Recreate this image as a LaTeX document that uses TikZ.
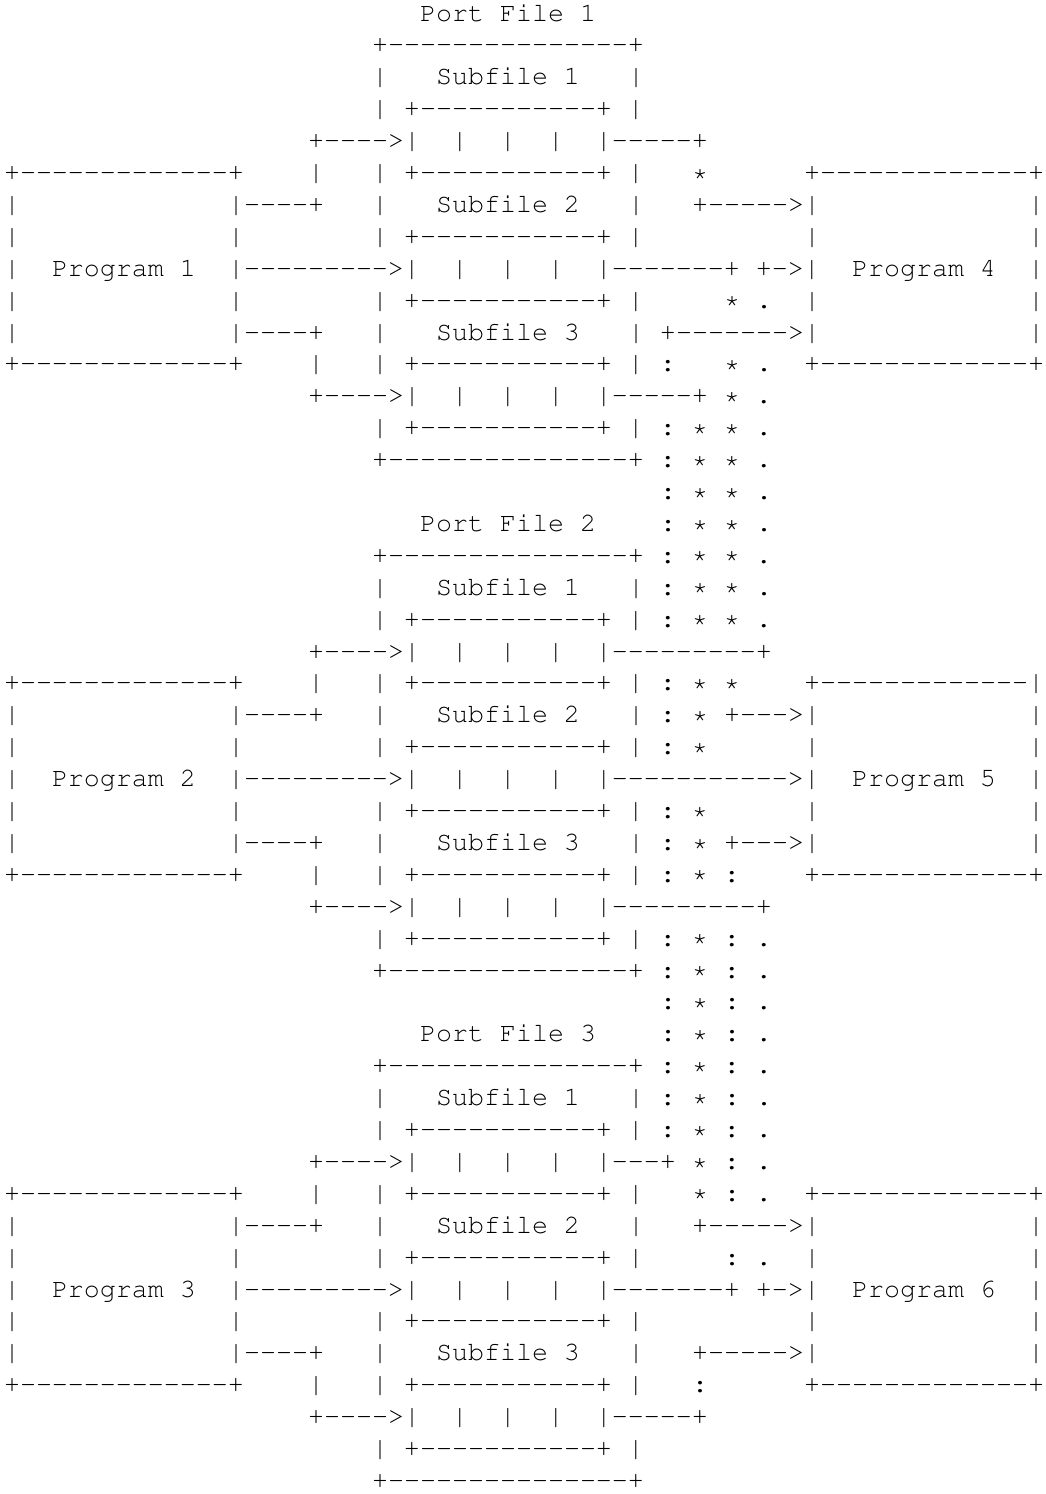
\documentclass[tikz,border=0pt]{standalone}
\usepackage[T1,TU]{fontenc}
\ExplSyntaxOn
% a run of n hyphens, kept apart so that no dash ligature forms
\cs_new:Npn \dashrun #1 { \prg_replicate:nn {#1} { - \kern 0pt } }
\ExplSyntaxOff
\tikzset{
  txt/.style={anchor=base west, inner sep=0pt, outer sep=0pt,
    font=\fontencoding{T1}\fontfamily{pcr}\fontsize{13.333pt}{16pt}\selectfont\frenchspacing}
}
% one run of characters on the 65 x 47 character grid: row, column, text
\newcommand\seg[3]{\node[txt] (r#1c#2) at ({4+16*#2},{21+31.9*#1}) {#3};}
\begin{document}
\begin{tikzpicture}[x=0.5pt,y=-0.5pt]
\fill[white] (0,0) rectangle (1045,1494);
\useasboundingbox (0,0) rectangle (1045,1494);
% ---------------- Port File 1 ----------------
\seg{0}{26}{Port File 1}
\seg{1}{23}{+\dashrun{15}+}
\seg{2}{23}{|} \seg{2}{27}{Subfile 1} \seg{2}{39}{|}
\seg{3}{23}{| +\dashrun{11}+ |}
\seg{4}{19}{+\dashrun{4}>|~~|~~|~~|~~|\dashrun{5}+}
\seg{5}{0}{+\dashrun{13}+} \seg{5}{19}{|} \seg{5}{23}{| +\dashrun{11}+ |} \seg{5}{43}{*} \seg{5}{50}{+\dashrun{13}+}
\seg{6}{0}{|} \seg{6}{14}{|\dashrun{4}+} \seg{6}{23}{|} \seg{6}{27}{Subfile 2} \seg{6}{39}{|} \seg{6}{43}{+\dashrun{5}>|} \seg{6}{64}{|}
\seg{7}{0}{|} \seg{7}{14}{|} \seg{7}{23}{| +\dashrun{11}+ |} \seg{7}{50}{|} \seg{7}{64}{|}
\seg{8}{0}{|} \seg{8}{3}{Program 1} \seg{8}{14}{|\dashrun{9}>|~~|~~|~~|~~|\dashrun{7}+ +\dashrun{1}>|} \seg{8}{53}{Program 4} \seg{8}{64}{|}
\seg{9}{0}{|} \seg{9}{14}{|} \seg{9}{23}{| +\dashrun{11}+ |} \seg{9}{45}{* .} \seg{9}{50}{|} \seg{9}{64}{|}
\seg{10}{0}{|} \seg{10}{14}{|\dashrun{4}+} \seg{10}{23}{|} \seg{10}{27}{Subfile 3} \seg{10}{39}{| +\dashrun{7}>|} \seg{10}{64}{|}
\seg{11}{0}{+\dashrun{13}+} \seg{11}{19}{|} \seg{11}{23}{| +\dashrun{11}+ | :} \seg{11}{45}{* .} \seg{11}{50}{+\dashrun{13}+}
\seg{12}{19}{+\dashrun{4}>|~~|~~|~~|~~|\dashrun{5}+ * .}
\seg{13}{23}{| +\dashrun{11}+ | : * * .}
\seg{14}{23}{+\dashrun{15}+ : * * .}
\seg{15}{41}{: * * .}
% ---------------- Port File 2 ----------------
\seg{16}{26}{Port File 2} \seg{16}{41}{: * * .}
\seg{17}{23}{+\dashrun{15}+ : * * .}
\seg{18}{23}{|} \seg{18}{27}{Subfile 1} \seg{18}{39}{| : * * .}
\seg{19}{23}{| +\dashrun{11}+ | : * * .}
\seg{20}{19}{+\dashrun{4}>|~~|~~|~~|~~|\dashrun{9}+}
\seg{21}{0}{+\dashrun{13}+} \seg{21}{19}{|} \seg{21}{23}{| +\dashrun{11}+ | : * *} \seg{21}{50}{+\dashrun{13}|}
\seg{22}{0}{|} \seg{22}{14}{|\dashrun{4}+} \seg{22}{23}{|} \seg{22}{27}{Subfile 2} \seg{22}{39}{| : * +\dashrun{3}>|} \seg{22}{64}{|}
\seg{23}{0}{|} \seg{23}{14}{|} \seg{23}{23}{| +\dashrun{11}+ | : *} \seg{23}{50}{|} \seg{23}{64}{|}
\seg{24}{0}{|} \seg{24}{3}{Program 2} \seg{24}{14}{|\dashrun{9}>|~~|~~|~~|~~|\dashrun{11}>|} \seg{24}{53}{Program 5} \seg{24}{64}{|}
\seg{25}{0}{|} \seg{25}{14}{|} \seg{25}{23}{| +\dashrun{11}+ | : *} \seg{25}{50}{|} \seg{25}{64}{|}
\seg{26}{0}{|} \seg{26}{14}{|\dashrun{4}+} \seg{26}{23}{|} \seg{26}{27}{Subfile 3} \seg{26}{39}{| : * +\dashrun{3}>|} \seg{26}{64}{|}
\seg{27}{0}{+\dashrun{13}+} \seg{27}{19}{|} \seg{27}{23}{| +\dashrun{11}+ | : * :} \seg{27}{50}{+\dashrun{13}+}
\seg{28}{19}{+\dashrun{4}>|~~|~~|~~|~~|\dashrun{9}+}
\seg{29}{23}{| +\dashrun{11}+ | : * : .}
\seg{30}{23}{+\dashrun{15}+ : * : .}
\seg{31}{41}{: * : .}
% ---------------- Port File 3 ----------------
\seg{32}{26}{Port File 3} \seg{32}{41}{: * : .}
\seg{33}{23}{+\dashrun{15}+ : * : .}
\seg{34}{23}{|} \seg{34}{27}{Subfile 1} \seg{34}{39}{| : * : .}
\seg{35}{23}{| +\dashrun{11}+ | : * : .}
\seg{36}{19}{+\dashrun{4}>|~~|~~|~~|~~|\dashrun{3}+ * : .}
\seg{37}{0}{+\dashrun{13}+} \seg{37}{19}{|} \seg{37}{23}{| +\dashrun{11}+ |} \seg{37}{43}{* : .} \seg{37}{50}{+\dashrun{13}+}
\seg{38}{0}{|} \seg{38}{14}{|\dashrun{4}+} \seg{38}{23}{|} \seg{38}{27}{Subfile 2} \seg{38}{39}{|} \seg{38}{43}{+\dashrun{5}>|} \seg{38}{64}{|}
\seg{39}{0}{|} \seg{39}{14}{|} \seg{39}{23}{| +\dashrun{11}+ |} \seg{39}{45}{: .} \seg{39}{50}{|} \seg{39}{64}{|}
\seg{40}{0}{|} \seg{40}{3}{Program 3} \seg{40}{14}{|\dashrun{9}>|~~|~~|~~|~~|\dashrun{7}+ +\dashrun{1}>|} \seg{40}{53}{Program 6} \seg{40}{64}{|}
\seg{41}{0}{|} \seg{41}{14}{|} \seg{41}{23}{| +\dashrun{11}+ |} \seg{41}{50}{|} \seg{41}{64}{|}
\seg{42}{0}{|} \seg{42}{14}{|\dashrun{4}+} \seg{42}{23}{|} \seg{42}{27}{Subfile 3} \seg{42}{39}{|} \seg{42}{43}{+\dashrun{5}>|} \seg{42}{64}{|}
\seg{43}{0}{+\dashrun{13}+} \seg{43}{19}{|} \seg{43}{23}{| +\dashrun{11}+ |} \seg{43}{43}{:} \seg{43}{50}{+\dashrun{13}+}
\seg{44}{19}{+\dashrun{4}>|~~|~~|~~|~~|\dashrun{5}+}
\seg{45}{23}{| +\dashrun{11}+ |}
\seg{46}{23}{+\dashrun{15}+}
\end{tikzpicture}
\end{document}
